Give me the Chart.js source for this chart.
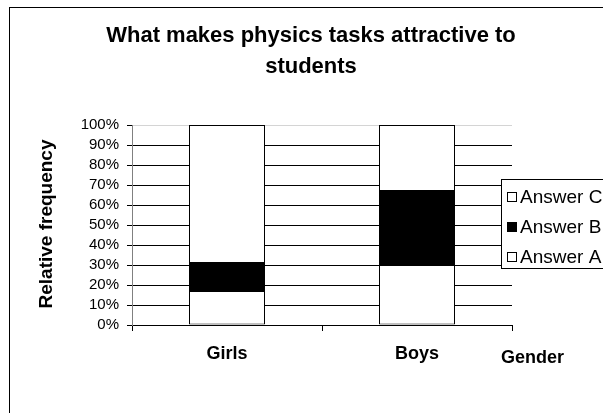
<!DOCTYPE html>
<html>
<head>
<meta charset="utf-8">
<script src="https://cdn.jsdelivr.net/npm/chart.js@4"></script>
<style>
  html, body { margin: 0; padding: 0; background: #fff; }
  #wrap { width: 603px; height: 413px; overflow: hidden; position: relative; }
  canvas { display: block; }
</style>
</head>
<body>
<div id="wrap"><canvas id="chart" width="700" height="450"></canvas></div>
<script>
const categories = ["Girls", "Boys"];
const answerA = [17, 30];
const answerB = [14, 37];
const answerC = [69, 33];
const yTicks = [0, 10, 20, 30, 40, 50, 60, 70, 80, 90, 100];

const FONT = "'Liberation Sans', Arial, sans-serif";

// title, axis titles, legend and outer frame drawn on top
const decorations = {
  id: "decorations",
  afterDraw(chart) {
    const ctx = chart.ctx;
    ctx.save();
    ctx.strokeStyle = "#000";
    ctx.lineWidth = 1;
    ctx.strokeRect(9.5, 7.5, 800, 800);

    ctx.fillStyle = "#000";
    ctx.textAlign = "center";
    ctx.textBaseline = "alphabetic";
    ctx.font = "bold 22px " + FONT;
    ctx.fillText("What makes physics tasks attractive to", 311, 42);
    ctx.fillText("students", 311, 73);

    ctx.font = "bold 18px " + FONT;
    ctx.textAlign = "left";
    ctx.fillText("Gender", 501, 363);

    ctx.save();
    ctx.translate(52, 224);
    ctx.rotate(-Math.PI / 2);
    ctx.textAlign = "center";
    ctx.font = "bold 19px " + FONT;
    ctx.fillText("Relative frequency", 0, 0);
    ctx.restore();

    // legend
    ctx.fillStyle = "#fff";
    ctx.fillRect(501.5, 179.5, 300, 89);
    ctx.strokeRect(501.5, 179.5, 300, 89);
    const ds = chart.data.datasets.slice().reverse();
    ctx.font = "19px " + FONT;
    ctx.textBaseline = "middle";
    ds.forEach((d, i) => {
      const y = 197 + i * 30;
      ctx.fillStyle = d.backgroundColor;
      ctx.fillRect(507.5, y - 4.5, 9, 9);
      ctx.strokeRect(507.5, y - 4.5, 9, 9);
      ctx.fillStyle = "#000";
      ctx.fillText(d.label, 520, y + 1);
    });
    ctx.restore();
  }
};

new Chart(document.getElementById("chart"), {
  type: "bar",
  data: {
    labels: categories,
    datasets: [
      { label: "Answer A", data: answerA, backgroundColor: "#ffffff" },
      { label: "Answer B", data: answerB, backgroundColor: "#000000" },
      { label: "Answer C", data: answerC, backgroundColor: "#ffffff" }
    ].map(d => Object.assign(d, {
      borderColor: "#000",
      borderWidth: 1,
      borderSkipped: false,
      categoryPercentage: 1,
      barPercentage: 0.4
    }))
  },
  options: {
    responsive: false,
    animation: false,
    layout: { padding: { left: 0, right: 188, top: 125, bottom: 0 } },
    plugins: {
      legend: { display: false },
      title: { display: false },
      tooltip: { enabled: false }
    },
    scales: {
      x: {
        stacked: true,
        offset: true,
        afterFit(scale) { scale.height = 125; },
        grid: {
          offset: true,
          drawOnChartArea: false,
          tickLength: 6,
          color: "#000"
        },
        border: { color: "#000" },
        ticks: {
          color: "#000",
          padding: 12,
          font: { family: FONT, size: 18, weight: "bold" }
        }
      },
      y: {
        stacked: true,
        min: 0,
        max: 100,
        afterFit(scale) { scale.width = 132; },
        afterBuildTicks(scale) { scale.ticks = yTicks.map(v => ({ value: v })); },
        grid: {
          color: c => (c.tick && c.tick.value === 100 ? "#d4d4d4" : "#000"),
          tickColor: "#000",
          tickLength: 5
        },
        border: { color: "#808080" },
        ticks: {
          autoSkip: false,
          color: "#000",
          padding: 8,
          font: { family: FONT, size: 15 },
          callback: v => v + "%"
        }
      }
    }
  },
  plugins: [decorations]
});
</script>
</body>
</html>
